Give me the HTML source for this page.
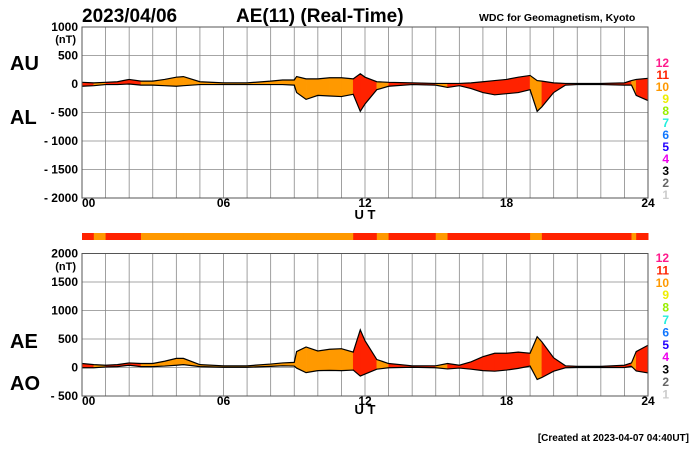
<!DOCTYPE html>
<html><head><meta charset="utf-8"><style>
body{margin:0;background:#fff;}
svg{display:block;font-family:"Liberation Sans",sans-serif;}
</style></head><body>
<svg id="c" width="700" height="450">
<text x="82" y="22" font-size="19" font-weight="bold">2023/04/06</text>
<text x="236" y="22" font-size="19" font-weight="bold">AE(11) (Real-Time)</text>
<text x="479" y="21" font-size="10.5" font-weight="bold">WDC for Geomagnetism, Kyoto</text>
<text x="10" y="70" font-size="20" font-weight="bold">AU</text>
<text x="10" y="124" font-size="20" font-weight="bold">AL</text>
<text x="10" y="348" font-size="20" font-weight="bold">AE</text>
<text x="10" y="390" font-size="20" font-weight="bold">AO</text>
<text x="365" y="219" font-size="13" font-weight="bold" text-anchor="middle">U T</text>
<text x="365" y="414" font-size="13" font-weight="bold" text-anchor="middle">U T</text>
<text x="689" y="441" font-size="10" font-weight="bold" text-anchor="end">[Created at 2023-04-07 04:40UT]</text>
</svg>
<script>
const times=[0,0.5,1,1.5,2,2.5,3,3.5,4,4.3,5,6,7,8,8.5,9,9.1,9.5,10,10.5,11,11.5,11.8,12,12.5,13,14,15,15.5,16,16.5,17,17.5,18,18.5,19,19.3,19.5,20,20.5,21,22,23,23.3,23.5,24];
const auValues=[30,20,30,40,80,50,50,80,120,130,40,20,20,50,70,70,130,90,90,110,110,90,180,120,40,30,20,10,10,10,20,40,60,80,120,150,60,50,20,10,10,10,20,60,80,100];
const alValues=[-40,-30,-10,-10,0,-20,-20,-30,-40,-30,-10,-10,-10,-10,-10,-20,-150,-270,-200,-210,-220,-180,-480,-350,-100,-40,-10,-20,-60,-30,-80,-150,-190,-170,-150,-100,-480,-400,-150,-20,-10,-10,-20,-20,-200,-290];
const stations=[11,10,11,11,11,10,10,10,10,10,10,10,10,10,10,10,10,10,10,10,10,11,11,11,10,11,11,10,11,11,11,11,11,11,11,10,10,11,11,11,11,11,11,10,11];
const xTicks=["00","06","12","18","24"];
const topTicks=[1000,500,0,-500,-1000,-1500,-2000];
const botTicks=[2000,1500,1000,500,0,-500];
const legendNums=[12,11,10,9,8,7,6,5,4,3,2,1];
const legendCols=["#ff1a8c","#ff2200","#ff9900","#eeee00","#99ee00","#22eedd","#1177ff","#2200ff","#ee00ee","#000","#666","#ccc"];
const colMap={10:"#ff9900",11:"#ff2200",12:"#ff1a8c"};
const NS="http://www.w3.org/2000/svg";
const svg=document.getElementById('c');
const X0=82,X1=648;
const x=t=>X0+(X1-X0)*t/24;
const yTop=v=>84-v*28.5/500;
const yBot=v=>367.5-v*28.5/500;
function el(tag,a,parent){const e=document.createElementNS(NS,tag);for(const k in a)e.setAttribute(k,a[k]);(parent||svg).appendChild(e);return e;}
const aeValues=auValues.map((u,i)=>u-alValues[i]);
const aoValues=auValues.map((u,i)=>(u+alValues[i])/2);
function panel(name,yf,ticks,upper,lower,unitY,legY,legStep){
  const g=el('g',{});
  
  
  const yt=yf(ticks[0]),yb=yf(ticks[ticks.length-1]);
  for(let h=0;h<=24;h++){const l=el('line',{x1:x(h),x2:x(h),y1:yt,y2:yb,stroke:'#888','stroke-width':0.8},g);
    }
  ticks.forEach(v=>{const l=el('line',{x1:X0,x2:X1,y1:yf(v),y2:yf(v),stroke:'#888','stroke-width':0.8},g);
    
    const t=el('text',{x:78,y:yf(v)+4,'font-size':12,'font-weight':'bold','text-anchor':'end'},g);
    t.textContent=v<0?'- '+(-v):String(v);
    });
  const u=el('text',{x:76,y:unitY,'font-size':11,'font-weight':'bold','text-anchor':'end'},g);u.textContent='(nT)';
  
  for(let i=0;i<times.length-1;i++){
    const p=`${x(times[i])},${yf(upper[i])} ${x(times[i+1])},${yf(upper[i+1])} ${x(times[i+1])},${yf(lower[i+1])} ${x(times[i])},${yf(lower[i])}`;
    const poly=el('polygon',{points:p,fill:colMap[stations[i]],stroke:colMap[stations[i]],'stroke-width':0.5},g);
    }
  [upper,lower].forEach((arr,k)=>{const pl=el('polyline',{points:times.map((t,i)=>x(t)+','+yf(arr[i])).join(' '),fill:'none',stroke:'#000','stroke-width':1.2},g);
    });
  const r=el('rect',{x:X0,y:yt,width:X1-X0,height:yb-yt,fill:'none',stroke:'#555','stroke-width':1},g);
  
  xTicks.forEach((s,i)=>{const t=el('text',{x:x(i*6),y:yb+9,'font-size':12,'font-weight':'bold','text-anchor':i===0?'start':'middle'},g);t.textContent=s;
    });
  legendNums.forEach((n,i)=>{const t=el('text',{x:669,y:legY+i*legStep,'font-size':12,'font-weight':'bold','text-anchor':'end',fill:legendCols[i]},g);t.textContent=n;
    });
}
panel('au-al',yTop,topTicks,auValues,alValues,43,67,12);
panel('ae-ao',yBot,botTicks,aeValues,aoValues,270,262,12.4);
for(let i=0;i<times.length-1;i++){
  const r=el('rect',{x:x(times[i]),y:233,width:x(times[i+1])-x(times[i])+0.5,height:7,fill:colMap[stations[i]]});
  
  
}
</script>
</body></html>
